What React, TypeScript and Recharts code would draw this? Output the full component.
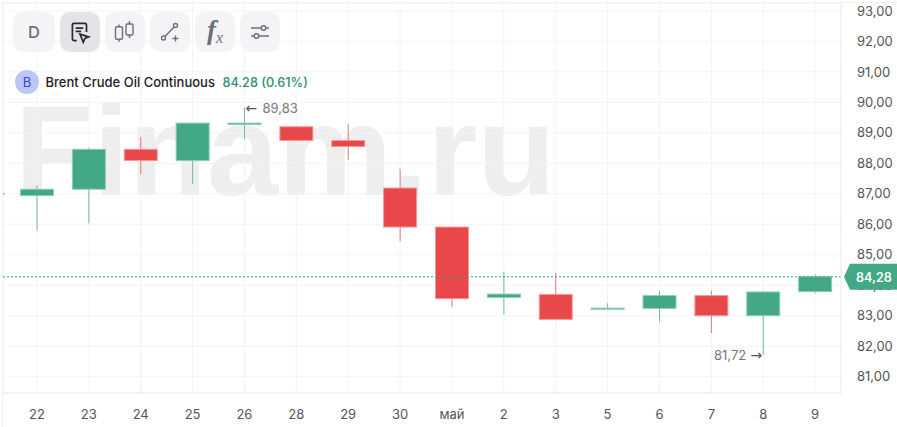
import React from 'react';
import { Bar, CartesianGrid, ComposedChart, ReferenceDot, ReferenceLine, XAxis, YAxis } from 'recharts';

const categories = ['22', '23', '24', '25', '26', '28', '29', '30', 'май', '2', '3', '5', '6', '7', '8', '9'];
const opens = [86.94, 87.15, 88.46, 88.09, 89.27, 89.2, 88.75, 87.19, 85.91, 83.6, 83.7, 83.21, 83.24, 83.66, 83.0, 83.79];
const closes = [87.15, 88.46, 88.09, 89.32, 89.32, 88.75, 88.55, 85.91, 83.56, 83.71, 82.88, 83.25, 83.66, 83.0, 83.78, 84.28];
const highs = [87.28, 88.51, 88.86, 89.32, 89.83, 89.2, 89.28, 87.82, 85.91, 84.44, 84.4, 83.41, 83.82, 83.82, 83.82, 84.36];
const lows = [85.79, 86.03, 87.64, 87.31, 88.79, 88.75, 88.12, 85.45, 83.29, 83.05, 82.85, 83.21, 82.8, 82.43, 81.72, 83.74];
const priceTicks = [81, 82, 83, 84, 85, 86, 87, 88, 89, 90, 91, 92, 93];

const lastPrice = 84.28;
const previousCandleClose = 87.0;

const GREEN = '#43a884';
const RED = '#e8484a';
const GRID = '#f3f3f5';
const FONT = 'Inter, sans-serif';
const ARROW_FONT = '"DejaVu Sans", sans-serif';

const chartData = categories.map((day, i) => ({
  day,
  open: opens[i],
  close: closes[i],
  high: highs[i],
  low: lows[i],
  range: [lows[i], highs[i]],
}));

const fmt = (v: number) => v.toFixed(2).replace('.', ',');

function Candle(props: any) {
  const { x, y, width, height, payload } = props;
  const { open, close, high, low } = payload;
  const up = close >= open;
  const color = up ? GREEN : RED;
  const perUnit = height / (high - low);
  const top = y + (high - Math.max(open, close)) * perUnit;
  const bottom = y + (high - Math.min(open, close)) * perUnit;
  const mid = x + width / 2;
  return (
    <g>
      <line x1={mid} x2={mid} y1={y} y2={y + height} stroke={color} strokeOpacity={0.75} strokeWidth={1} />
      <rect
        x={x + 0.5}
        y={top}
        width={width - 1}
        height={bottom - top}
        fill={color}
        stroke={up ? '#8fcdb6' : '#f09a9b'}
        strokeWidth={1}
      />
    </g>
  );
}

function PriceTag(props: any) {
  const y = props.viewBox.y;
  return (
    <g>
      <path d={`M844 ${y} L850 ${y - 13} H897 V${y + 13} H850 Z`} fill={GREEN} />
      <text x={856} y={y + 5} fill="#fff" fontSize={12.5} fontWeight={600} fontFamily={FONT}>
        {fmt(lastPrice)}
      </text>
    </g>
  );
}

function HighMark(props: any) {
  return (
    <g>
      <text x={props.cx + 1} y={props.cy + 5} fill="#555" fontSize={14} fontFamily={ARROW_FONT}>←</text>
      <text x={props.cx + 18} y={props.cy + 5} fill="#777" fontSize={13} fontFamily={FONT}>
        {fmt(Math.max(...highs))}
      </text>
    </g>
  );
}

function LowMark(props: any) {
  return (
    <g>
      <text x={props.cx - 17} y={props.cy + 5} fill="#777" fontSize={13} fontFamily={FONT} textAnchor="end">
        {fmt(Math.min(...lows))}
      </text>
      <text x={props.cx - 1} y={props.cy + 5} fill="#555" fontSize={14} fontFamily={ARROW_FONT} textAnchor="end">→</text>
    </g>
  );
}

function PrevStub(props: any) {
  return <rect x={3} y={props.cy - 1} width={1.5} height={2} fill={RED} fillOpacity={0.5} />;
}

const toolButtons: React.ReactNode[] = [
  <span style={{ fontSize: 16.5, color: '#6f6f76', fontFamily: FONT, fontWeight: 500 }}>D</span>,
  <svg width="26" height="26" viewBox="0 0 24 24" fill="none" stroke="#2b2b30" strokeWidth="1.6">
    <path d="M9 20H6.500A1.500 1.500 0 0 1 5 18.500V5.500A1.500 1.500 0 0 1 6.500 4h10A1.500 1.500 0 0 1 18 5.500V12" />
    <path d="M8 8.500h7M8 11.500h5" />
    <path d="M12 14l8 2.500-3.500 1.500-1.500 3.500z" />
  </svg>,
  <svg width="24" height="24" viewBox="0 0 24 24" fill="none" stroke="#6f6f76" strokeWidth="1.4">
    <rect x="2.500" y="6.700" width="7" height="12.600" rx="1.500" />
    <rect x="13" y="4" width="7" height="11" rx="1.500" />
    <path d="M6 4.500V6.700M6 19.300V22M16.500 1V4M16.500 15V18" />
  </svg>,
  <svg width="24" height="24" viewBox="0 0 24 24" fill="none" stroke="#6f6f76" strokeWidth="1.4">
    <circle cx="5.500" cy="18" r="2" />
    <circle cx="17.500" cy="5.500" r="2" />
    <path d="M7 16.500L16 7M14.500 18.500h6M17.500 15.500v6" />
  </svg>,
  <span style={{ fontFamily: '"Liberation Serif", serif', fontStyle: 'italic', fontWeight: 700, color: '#6f6f76', fontSize: 27, lineHeight: '24px' }}>
    f<span style={{ fontSize: 16, fontWeight: 400, position: 'relative', top: 4 }}>x</span>
  </span>,
  <svg width="24" height="24" viewBox="0 0 24 24" fill="none" stroke="#6f6f76" strokeWidth="1.4">
    <path d="M3 8h10M18 8h3M3 16h3M11 16h10" />
    <circle cx="15.500" cy="8" r="2.300" />
    <circle cx="8.500" cy="16" r="2.300" />
  </svg>,
];

export default function App() {
  return (
    <div style={{ position: 'absolute', left: 0, top: 0, width: 897, height: 427, overflow: 'hidden', background: '#fff' }}>
      {/* watermark sits under the transparent chart */}
      <div
        style={{
          position: 'absolute',
          left: 15,
          top: 78,
          fontFamily: '"Liberation Sans", Arial, sans-serif',
          fontWeight: 700,
          fontSize: 128,
          lineHeight: '146px',
          color: '#eeeeee',
          whiteSpace: 'nowrap',
        }}
      >
        Finam.ru
      </div>
      <div style={{ position: 'absolute', left: 2, top: 2, width: 895, height: 1, background: '#f0f0f2' }} />
      <div style={{ position: 'absolute', left: 2, top: 2, width: 1, height: 425, background: '#f0f0f2' }} />

      <div style={{ position: 'absolute', left: 0, top: 0 }}>
        <ComposedChart
          width={897}
          height={427}
          data={chartData}
          margin={{ top: 3, left: 3, right: 0, bottom: 0 }}
          style={{ fontFamily: FONT }}
        >
          <CartesianGrid stroke={GRID} strokeWidth={1} />
          <XAxis
            dataKey="day"
            height={34}
            padding={{ left: 8, right: 0 }}
            axisLine={{ stroke: '#eeeeee' }}
            tickLine={false}
            tickMargin={11}
            interval={0}
            tick={{ fill: '#555', fontSize: 13 }}
          />
          <YAxis
            orientation="right"
            width={56}
            domain={[80.465, 93.26]}
            ticks={priceTicks}
            allowDataOverflow
            axisLine={{ stroke: '#eeeeee' }}
            tickLine={false}
            tickMargin={10}
            tickFormatter={fmt}
            tick={{ fill: '#555', fontSize: 13, textAnchor: 'start' }}
          />
          <Bar dataKey="range" barSize={34} isAnimationActive={false} shape={<Candle />} />
          <ReferenceDot x="22" y={previousCandleClose} r={0} shape={<PrevStub />} />
          <ReferenceDot x="26" y={Math.max(...highs)} r={0} shape={<HighMark />} />
          <ReferenceDot x="8" y={Math.min(...lows)} r={0} shape={<LowMark />} />
          <ReferenceLine y={lastPrice} stroke={GREEN} strokeDasharray="2 2" />
        </ComposedChart>
      </div>

      {/* second chart on the same scale, so the price tag lies over the axis labels */}
      <div style={{ position: 'absolute', left: 0, top: 0 }}>
        <ComposedChart width={897} height={427} data={chartData} margin={{ top: 3, left: 3, right: 56, bottom: 34 }}>
          <XAxis dataKey="day" hide />
          <YAxis hide domain={[80.465, 93.26]} allowDataOverflow />
          <ReferenceLine y={lastPrice} stroke="none" label={<PriceTag />} />
        </ComposedChart>
      </div>

      <div style={{ position: 'absolute', left: 13, top: 12, display: 'flex', gap: 5 }}>
        {toolButtons.map((icon, i) => (
          <div
            key={i}
            style={{
              width: i === 0 ? 42 : 40,
              height: 40,
              borderRadius: 10,
              background: i === 1 ? '#e4e4e8' : '#f4f4f6',
              display: 'flex',
              alignItems: 'center',
              justifyContent: 'center',
            }}
          >
            {icon}
          </div>
        ))}
      </div>

      <div
        style={{
          position: 'absolute',
          left: 15,
          top: 70,
          display: 'flex',
          alignItems: 'center',
          fontFamily: FONT,
          fontSize: 13,
          height: 24,
          whiteSpace: 'nowrap',
        }}
      >
        <div
          style={{
            width: 24,
            height: 24,
            borderRadius: 12,
            background: '#bcc6f4',
            color: '#3a46c8',
            display: 'flex',
            alignItems: 'center',
            justifyContent: 'center',
            fontSize: 13,
            marginRight: 6.5,
          }}
        >
          B
        </div>
        <span style={{ color: '#1c1c24', fontWeight: 500 }}>Brent Crude Oil Continuous</span>
        <span style={{ color: '#2f8f78', marginLeft: 7.5, fontWeight: 500, fontSize: 12.7 }}>84.28 (0.61%)</span>
      </div>
    </div>
  );
}
